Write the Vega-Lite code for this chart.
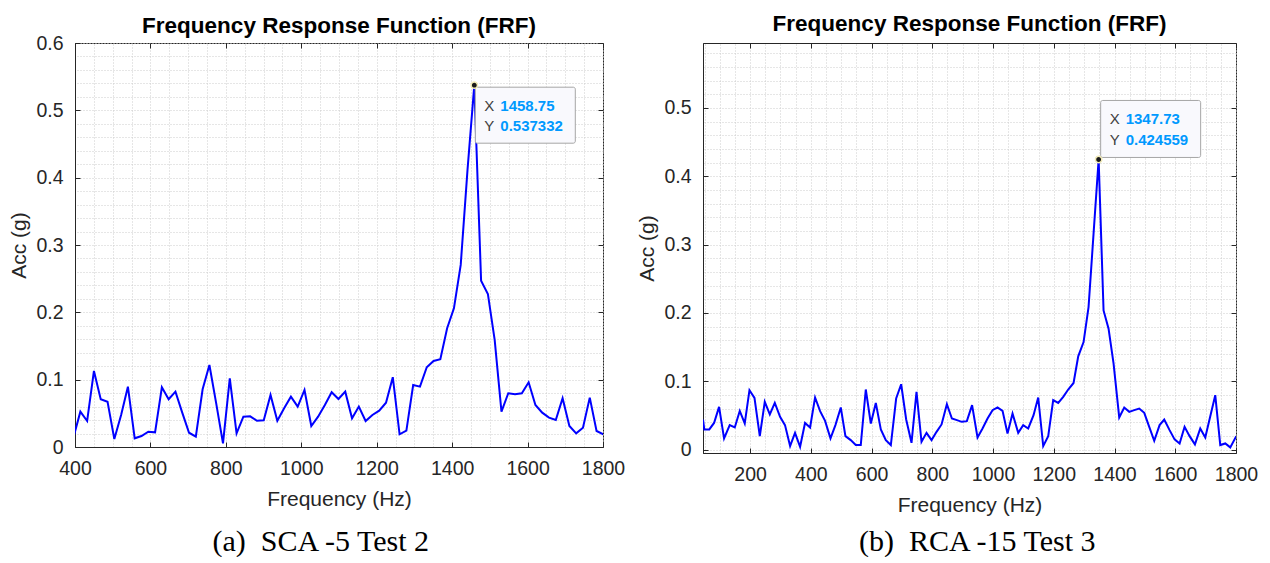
{
  "$schema": "https://vega.github.io/schema/vega-lite/v6.json",
  "background": "white",
  "padding": {"left": 8, "top": 12, "right": 0, "bottom": 0},
  "spacing": 10,
  "datasets": {
    "frfA": [
      {"f": 396.20, "acc": 0.0147}, {"f": 414.21, "acc": 0.0525}, {"f": 432.22, "acc": 0.0386}, {"f": 450.23, "acc": 0.113},
      {"f": 468.24, "acc": 0.0709}, {"f": 486.25, "acc": 0.0673}, {"f": 504.26, "acc": 0.0119}, {"f": 522.27, "acc": 0.0475},
      {"f": 540.28, "acc": 0.0896}, {"f": 558.29, "acc": 0.0129}, {"f": 576.30, "acc": 0.0163}, {"f": 594.31, "acc": 0.0227},
      {"f": 612.31, "acc": 0.0218}, {"f": 630.32, "acc": 0.0887}, {"f": 648.33, "acc": 0.0709}, {"f": 666.34, "acc": 0.0822},
      {"f": 684.35, "acc": 0.051}, {"f": 702.36, "acc": 0.0212}, {"f": 720.37, "acc": 0.0153}, {"f": 738.38, "acc": 0.0857},
      {"f": 756.39, "acc": 0.1218}, {"f": 774.40, "acc": 0.0649}, {"f": 792.41, "acc": 0.0055}, {"f": 810.42, "acc": 0.102},
      {"f": 828.43, "acc": 0.0203}, {"f": 846.44, "acc": 0.045}, {"f": 864.44, "acc": 0.0456}, {"f": 882.45, "acc": 0.039},
      {"f": 900.46, "acc": 0.0397}, {"f": 918.47, "acc": 0.0773}, {"f": 936.48, "acc": 0.039}, {"f": 954.49, "acc": 0.0575},
      {"f": 972.50, "acc": 0.0748}, {"f": 990.51, "acc": 0.06}, {"f": 1008.52, "acc": 0.0847}, {"f": 1026.53, "acc": 0.0312},
      {"f": 1044.54, "acc": 0.045}, {"f": 1062.55, "acc": 0.0624}, {"f": 1080.56, "acc": 0.0813}, {"f": 1098.56, "acc": 0.0713},
      {"f": 1116.57, "acc": 0.0822}, {"f": 1134.58, "acc": 0.0426}, {"f": 1152.59, "acc": 0.06}, {"f": 1170.60, "acc": 0.0386},
      {"f": 1188.61, "acc": 0.0475}, {"f": 1206.62, "acc": 0.054}, {"f": 1224.63, "acc": 0.0658}, {"f": 1242.64, "acc": 0.1036},
      {"f": 1260.65, "acc": 0.0189}, {"f": 1278.66, "acc": 0.0242}, {"f": 1296.67, "acc": 0.0921}, {"f": 1314.68, "acc": 0.0896},
      {"f": 1332.69, "acc": 0.1184}, {"f": 1350.69, "acc": 0.1278}, {"f": 1368.70, "acc": 0.1303}, {"f": 1386.71, "acc": 0.1764},
      {"f": 1404.72, "acc": 0.206}, {"f": 1422.73, "acc": 0.2704}, {"f": 1440.74, "acc": 0.4116}, {"f": 1458.75, "acc": 0.537332},
      {"f": 1476.76, "acc": 0.2471}, {"f": 1494.77, "acc": 0.2273}, {"f": 1512.78, "acc": 0.159}, {"f": 1530.79, "acc": 0.0525},
      {"f": 1548.80, "acc": 0.0798}, {"f": 1566.81, "acc": 0.0783}, {"f": 1584.81, "acc": 0.0798}, {"f": 1602.82, "acc": 0.0961},
      {"f": 1620.83, "acc": 0.0624}, {"f": 1638.84, "acc": 0.051}, {"f": 1656.85, "acc": 0.0436}, {"f": 1674.86, "acc": 0.0401},
      {"f": 1692.87, "acc": 0.0723}, {"f": 1710.88, "acc": 0.0312}, {"f": 1728.89, "acc": 0.0203}, {"f": 1746.90, "acc": 0.0287},
      {"f": 1764.91, "acc": 0.0733}, {"f": 1782.92, "acc": 0.0238}, {"f": 1800.93, "acc": 0.0189}
    ],
    "frfB": [
      {"f": 45, "acc": 0.044}, {"f": 49.3, "acc": 0.0295}, {"f": 65.7, "acc": 0.0295}, {"f": 81.4, "acc": 0.039},
      {"f": 97.9, "acc": 0.0625}, {"f": 114.4, "acc": 0.0164}, {"f": 133, "acc": 0.0358}, {"f": 149.6, "acc": 0.0324},
      {"f": 166, "acc": 0.0566}, {"f": 182.5, "acc": 0.0382}, {"f": 198, "acc": 0.0869}, {"f": 214.5, "acc": 0.0756},
      {"f": 232, "acc": 0.0197}, {"f": 248.4, "acc": 0.0698}, {"f": 265, "acc": 0.0514}, {"f": 281.4, "acc": 0.0683},
      {"f": 298.8, "acc": 0.0479}, {"f": 315, "acc": 0.0358}, {"f": 331.8, "acc": 0.0051}, {"f": 348, "acc": 0.0245},
      {"f": 364.7, "acc": 0.0041}, {"f": 381, "acc": 0.039}, {"f": 397.6, "acc": 0.0324}, {"f": 414, "acc": 0.0762},
      {"f": 430.6, "acc": 0.0562}, {"f": 447, "acc": 0.042}, {"f": 464.8, "acc": 0.0164}, {"f": 481, "acc": 0.0358},
      {"f": 498.7, "acc": 0.0616}, {"f": 514, "acc": 0.0197}, {"f": 531.4, "acc": 0.0139}, {"f": 548, "acc": 0.0066},
      {"f": 564.5, "acc": 0.0066}, {"f": 581, "acc": 0.0879}, {"f": 597.6, "acc": 0.0382}, {"f": 614, "acc": 0.0683},
      {"f": 630.5, "acc": 0.0295}, {"f": 647, "acc": 0.0139}, {"f": 663.5, "acc": 0.0066}, {"f": 681, "acc": 0.0747},
      {"f": 697.5, "acc": 0.0956}, {"f": 714, "acc": 0.0441}, {"f": 731.6, "acc": 0.0099}, {"f": 748, "acc": 0.0844},
      {"f": 764.5, "acc": 0.0114}, {"f": 781, "acc": 0.0245}, {"f": 797.5, "acc": 0.0139}, {"f": 814, "acc": 0.026},
      {"f": 830.5, "acc": 0.0368}, {"f": 848, "acc": 0.0664}, {"f": 864.5, "acc": 0.0455}, {"f": 881, "acc": 0.0431},
      {"f": 897, "acc": 0.0406}, {"f": 913.8, "acc": 0.0416}, {"f": 931, "acc": 0.065}, {"f": 948.9, "acc": 0.0178},
      {"f": 965.4, "acc": 0.0309}, {"f": 981.9, "acc": 0.0455}, {"f": 998.3, "acc": 0.0577}, {"f": 1014.8, "acc": 0.0616},
      {"f": 1031.3, "acc": 0.0567}, {"f": 1047.7, "acc": 0.0236}, {"f": 1064.2, "acc": 0.0528}, {"f": 1082.9, "acc": 0.0245},
      {"f": 1099.3, "acc": 0.0358}, {"f": 1115.8, "acc": 0.0309}, {"f": 1133.4, "acc": 0.0504}, {"f": 1148.7, "acc": 0.0762},
      {"f": 1165.2, "acc": 0.0051}, {"f": 1181.7, "acc": 0.0197}, {"f": 1198.1, "acc": 0.0723}, {"f": 1214.6, "acc": 0.0683},
      {"f": 1231.1, "acc": 0.0771}, {"f": 1247.5, "acc": 0.0879}, {"f": 1265.1, "acc": 0.0975}, {"f": 1280.5, "acc": 0.1365},
      {"f": 1298.1, "acc": 0.1574}, {"f": 1314.5, "acc": 0.2085}, {"f": 1331, "acc": 0.316}, {"f": 1347.73, "acc": 0.424559},
      {"f": 1363.9, "acc": 0.2036}, {"f": 1380.4, "acc": 0.1769}, {"f": 1396.9, "acc": 0.1258}, {"f": 1415.5, "acc": 0.047},
      {"f": 1432, "acc": 0.0616}, {"f": 1448.5, "acc": 0.0552}, {"f": 1464.9, "acc": 0.0577}, {"f": 1481.4, "acc": 0.0601},
      {"f": 1497.9, "acc": 0.0538}, {"f": 1514.3, "acc": 0.0333}, {"f": 1530.8, "acc": 0.0129}, {"f": 1548.4, "acc": 0.0358},
      {"f": 1563.7, "acc": 0.044}, {"f": 1581.3, "acc": 0.0285}, {"f": 1597.8, "acc": 0.0149}, {"f": 1614.3, "acc": 0.009},
      {"f": 1630.7, "acc": 0.0333}, {"f": 1647.2, "acc": 0.0197}, {"f": 1664.8, "acc": 0.0076}, {"f": 1682.3, "acc": 0.0309},
      {"f": 1698.8, "acc": 0.0178}, {"f": 1715.3, "acc": 0.0489}, {"f": 1731.7, "acc": 0.0796}, {"f": 1748.2, "acc": 0.0066},
      {"f": 1764.7, "acc": 0.009}, {"f": 1781.1, "acc": 0.0032}, {"f": 1800.9, "acc": 0.0197}
    ],
    "tipA": [{"f": 1458.75, "acc": 0.537332}],
    "tipB": [{"f": 1347.73, "acc": 0.424559}]
  },
  "hconcat": [
    {
      "title": {"text": "(a)\u00a0 SCA -5 Test 2", "orient": "bottom", "anchor": "middle", "font": "Liberation Serif", "fontSize": 30, "fontWeight": "normal", "color": "black", "offset": 17, "dx": 4},
      "vconcat": [
        {
          "width": 528,
          "height": 404,
          "title": {"text": "Frequency Response Function (FRF)", "font": "Liberation Sans", "fontSize": 22.5, "fontWeight": "bold", "color": "black", "offset": -4},
          "resolve": {"axis": {"x": "independent", "y": "independent"}},
          "layer": [
            {
              "data": {"name": "frfA"},
              "mark": {"type": "line", "strokeOpacity": 0, "clip": true},
              "encoding": {
                "x": {"field": "f", "type": "quantitative", "scale": {"domain": [400, 1800], "nice": false, "zero": false, "padding": 0},
                  "axis": {"orient": "top", "values": [400,450,500,550,600,650,700,750,800,850,900,950,1000,1050,1100,1150,1200,1250,1300,1350,1400,1450,1500,1550,1600,1650,1700,1750,1800],
                    "labels": false, "domain": false, "title": null, "grid": true, "gridDash": [1, 2], "gridColor": "#cccccc", "gridWidth": 1,
                    "tickSize": -5, "tickColor": "#262626", "tickOpacity": {"condition": {"test": "datum.value % 200 === 0", "value": 1}, "value": 0}}},
                "y": {"field": "acc", "type": "quantitative", "scale": {"domain": [0, 0.6], "nice": false, "padding": 0},
                  "axis": {"orient": "right", "values": [0,0.02,0.04,0.06,0.08,0.1,0.12,0.14,0.16,0.18,0.2,0.22,0.24,0.26,0.28,0.3,0.32,0.34,0.36,0.38,0.4,0.42,0.44,0.46,0.48,0.5,0.52,0.54,0.56,0.58,0.6],
                    "labels": false, "domain": false, "title": null, "grid": true, "gridDash": [1, 2], "gridColor": "#cccccc", "gridWidth": 1,
                    "tickSize": -5, "tickColor": "#262626", "tickOpacity": {"condition": {"test": "abs(datum.value*10 - round(datum.value*10)) < 0.001", "value": 1}, "value": 0}}}
              }
            },
            {
              "data": {"name": "frfA"},
              "mark": {"type": "line", "color": "#0000ff", "strokeWidth": 2, "clip": true},
              "encoding": {
                "x": {"field": "f", "type": "quantitative", "scale": {"domain": [400, 1800], "nice": false, "zero": false, "padding": 0},
                  "axis": {"orient": "bottom", "values": [400, 600, 800, 1000, 1200, 1400, 1600, 1800], "format": "d", "title": "Frequency (Hz)", "grid": false, "tickSize": -5, "labelPadding": 17, "titlePadding": 11}},
                "y": {"field": "acc", "type": "quantitative", "scale": {"domain": [0, 0.6], "nice": false, "padding": 0},
                  "axis": {"orient": "left", "values": [0, 0.1, 0.2, 0.3, 0.4, 0.5, 0.6], "format": "~g", "title": "Acc (g)", "grid": false, "tickSize": -5, "labelPadding": 17, "titlePadding": 6}}
              }
            },
            {
              "data": {"name": "tipA"},
              "mark": {"type": "rect", "xOffset": 1, "x2Offset": 101, "yOffset": 2, "y2Offset": 58, "fill": "#f9f9fd", "stroke": "#a6a6a6", "strokeWidth": 1, "cornerRadius": 2},
              "encoding": {
                "x": {"field": "f", "type": "quantitative", "scale": {"domain": [400, 1800], "nice": false, "zero": false, "padding": 0}, "axis": null},
                "x2": {"field": "f"},
                "y": {"field": "acc", "type": "quantitative", "scale": {"domain": [0, 0.6], "nice": false, "padding": 0}, "axis": null},
                "y2": {"field": "acc"}
              }
            },
            {
              "data": {"name": "tipA"},
              "mark": {"type": "circle", "fill": "#1a1a1a", "stroke": "#f3ecb8", "strokeWidth": 1.5, "size": 40, "opacity": 1},
              "encoding": {
                "x": {"field": "f", "type": "quantitative", "scale": {"domain": [400, 1800], "nice": false, "zero": false, "padding": 0}, "axis": null},
                "y": {"field": "acc", "type": "quantitative", "scale": {"domain": [0, 0.6], "nice": false, "padding": 0}, "axis": null}
              }
            },
            {
              "data": {"name": "tipA"},
              "mark": {"type": "text", "text": "X", "align": "left", "baseline": "middle", "dx": 10, "dy": 21, "font": "Liberation Sans", "fontSize": 15, "fill": "#404040"},
              "encoding": {
                "x": {"field": "f", "type": "quantitative", "scale": {"domain": [400, 1800], "nice": false, "zero": false, "padding": 0}, "axis": null},
                "y": {"field": "acc", "type": "quantitative", "scale": {"domain": [0, 0.6], "nice": false, "padding": 0}, "axis": null}
              }
            },
            {
              "data": {"name": "tipA"},
              "mark": {"type": "text", "text": "Y", "align": "left", "baseline": "middle", "dx": 10, "dy": 41, "font": "Liberation Sans", "fontSize": 15, "fill": "#404040"},
              "encoding": {
                "x": {"field": "f", "type": "quantitative", "scale": {"domain": [400, 1800], "nice": false, "zero": false, "padding": 0}, "axis": null},
                "y": {"field": "acc", "type": "quantitative", "scale": {"domain": [0, 0.6], "nice": false, "padding": 0}, "axis": null}
              }
            },
            {
              "data": {"name": "tipA"},
              "mark": {"type": "text", "align": "left", "baseline": "middle", "dx": 26, "dy": 21, "font": "Liberation Sans", "fontSize": 15, "fontWeight": "bold", "fill": "#0099ff"},
              "encoding": {
                "x": {"field": "f", "type": "quantitative", "scale": {"domain": [400, 1800], "nice": false, "zero": false, "padding": 0}, "axis": null},
                "y": {"field": "acc", "type": "quantitative", "scale": {"domain": [0, 0.6], "nice": false, "padding": 0}, "axis": null},
                "text": {"field": "f", "type": "quantitative", "format": ".2f"}
              }
            },
            {
              "data": {"name": "tipA"},
              "mark": {"type": "text", "align": "left", "baseline": "middle", "dx": 26, "dy": 41, "font": "Liberation Sans", "fontSize": 15, "fontWeight": "bold", "fill": "#0099ff"},
              "encoding": {
                "x": {"field": "f", "type": "quantitative", "scale": {"domain": [400, 1800], "nice": false, "zero": false, "padding": 0}, "axis": null},
                "y": {"field": "acc", "type": "quantitative", "scale": {"domain": [0, 0.6], "nice": false, "padding": 0}, "axis": null},
                "text": {"field": "acc", "type": "quantitative", "format": ".6f"}
              }
            }
          ]
        }
      ]
    },
    {
      "title": {"text": "(b)\u00a0 RCA -15 Test 3", "orient": "bottom", "anchor": "middle", "font": "Liberation Serif", "fontSize": 30, "fontWeight": "normal", "color": "black", "offset": 11, "dx": 30},
      "vconcat": [
        {
          "width": 533,
          "height": 410,
          "title": {"text": "Frequency Response Function (FRF)", "font": "Liberation Sans", "fontSize": 22.5, "fontWeight": "bold", "color": "black", "offset": 7},
          "resolve": {"axis": {"x": "independent", "y": "independent"}},
          "layer": [
            {
              "data": {"name": "frfB"},
              "mark": {"type": "line", "strokeOpacity": 0, "clip": true},
              "encoding": {
                "x": {"field": "f", "type": "quantitative", "scale": {"domain": [45, 1800], "nice": false, "zero": false, "padding": 0},
                  "axis": {"orient": "top", "values": [50,100,150,200,250,300,350,400,450,500,550,600,650,700,750,800,850,900,950,1000,1050,1100,1150,1200,1250,1300,1350,1400,1450,1500,1550,1600,1650,1700,1750,1800],
                    "labels": false, "domain": false, "title": null, "grid": true, "gridDash": [1, 2], "gridColor": "#cccccc", "gridWidth": 1,
                    "tickSize": -5, "tickColor": "#262626", "tickOpacity": {"condition": {"test": "datum.value % 200 === 0", "value": 1}, "value": 0}}},
                "y": {"field": "acc", "type": "quantitative", "scale": {"domain": [-0.005, 0.595], "nice": false, "zero": false, "padding": 0},
                  "axis": {"orient": "right", "values": [0,0.02,0.04,0.06,0.08,0.1,0.12,0.14,0.16,0.18,0.2,0.22,0.24,0.26,0.28,0.3,0.32,0.34,0.36,0.38,0.4,0.42,0.44,0.46,0.48,0.5,0.52,0.54,0.56,0.58],
                    "labels": false, "domain": false, "title": null, "grid": true, "gridDash": [1, 2], "gridColor": "#cccccc", "gridWidth": 1,
                    "tickSize": -5, "tickColor": "#262626", "tickOpacity": {"condition": {"test": "abs(datum.value*10 - round(datum.value*10)) < 0.001", "value": 1}, "value": 0}}}
              }
            },
            {
              "data": {"name": "frfB"},
              "mark": {"type": "line", "color": "#0000ff", "strokeWidth": 2, "clip": true},
              "encoding": {
                "x": {"field": "f", "type": "quantitative", "scale": {"domain": [45, 1800], "nice": false, "zero": false, "padding": 0},
                  "axis": {"orient": "bottom", "values": [200, 400, 600, 800, 1000, 1200, 1400, 1600, 1800], "format": "d", "title": "Frequency (Hz)", "grid": false, "tickSize": -5, "labelPadding": 17, "titlePadding": 11}},
                "y": {"field": "acc", "type": "quantitative", "scale": {"domain": [-0.005, 0.595], "nice": false, "zero": false, "padding": 0},
                  "axis": {"orient": "left", "values": [0, 0.1, 0.2, 0.3, 0.4, 0.5], "format": "~g", "title": "Acc (g)", "grid": false, "tickSize": -5, "labelPadding": 17, "titlePadding": 6}}
              }
            },
            {
              "data": {"name": "tipB"},
              "mark": {"type": "rect", "xOffset": 2, "x2Offset": 102, "yOffset": -59, "y2Offset": -2, "fill": "#f9f9fd", "stroke": "#a6a6a6", "strokeWidth": 1, "cornerRadius": 2},
              "encoding": {
                "x": {"field": "f", "type": "quantitative", "scale": {"domain": [45, 1800], "nice": false, "zero": false, "padding": 0}, "axis": null},
                "x2": {"field": "f"},
                "y": {"field": "acc", "type": "quantitative", "scale": {"domain": [-0.005, 0.595], "nice": false, "zero": false, "padding": 0}, "axis": null},
                "y2": {"field": "acc"}
              }
            },
            {
              "data": {"name": "tipB"},
              "mark": {"type": "circle", "fill": "#1a1a1a", "stroke": "#f3ecb8", "strokeWidth": 1.5, "size": 40, "opacity": 1},
              "encoding": {
                "x": {"field": "f", "type": "quantitative", "scale": {"domain": [45, 1800], "nice": false, "zero": false, "padding": 0}, "axis": null},
                "y": {"field": "acc", "type": "quantitative", "scale": {"domain": [-0.005, 0.595], "nice": false, "zero": false, "padding": 0}, "axis": null}
              }
            },
            {
              "data": {"name": "tipB"},
              "mark": {"type": "text", "text": "X", "align": "left", "baseline": "middle", "dx": 11, "dy": -40, "font": "Liberation Sans", "fontSize": 15, "fill": "#404040"},
              "encoding": {
                "x": {"field": "f", "type": "quantitative", "scale": {"domain": [45, 1800], "nice": false, "zero": false, "padding": 0}, "axis": null},
                "y": {"field": "acc", "type": "quantitative", "scale": {"domain": [-0.005, 0.595], "nice": false, "zero": false, "padding": 0}, "axis": null}
              }
            },
            {
              "data": {"name": "tipB"},
              "mark": {"type": "text", "text": "Y", "align": "left", "baseline": "middle", "dx": 11, "dy": -19, "font": "Liberation Sans", "fontSize": 15, "fill": "#404040"},
              "encoding": {
                "x": {"field": "f", "type": "quantitative", "scale": {"domain": [45, 1800], "nice": false, "zero": false, "padding": 0}, "axis": null},
                "y": {"field": "acc", "type": "quantitative", "scale": {"domain": [-0.005, 0.595], "nice": false, "zero": false, "padding": 0}, "axis": null}
              }
            },
            {
              "data": {"name": "tipB"},
              "mark": {"type": "text", "align": "left", "baseline": "middle", "dx": 27, "dy": -40, "font": "Liberation Sans", "fontSize": 15, "fontWeight": "bold", "fill": "#0099ff"},
              "encoding": {
                "x": {"field": "f", "type": "quantitative", "scale": {"domain": [45, 1800], "nice": false, "zero": false, "padding": 0}, "axis": null},
                "y": {"field": "acc", "type": "quantitative", "scale": {"domain": [-0.005, 0.595], "nice": false, "zero": false, "padding": 0}, "axis": null},
                "text": {"field": "f", "type": "quantitative", "format": ".2f"}
              }
            },
            {
              "data": {"name": "tipB"},
              "mark": {"type": "text", "align": "left", "baseline": "middle", "dx": 27, "dy": -19, "font": "Liberation Sans", "fontSize": 15, "fontWeight": "bold", "fill": "#0099ff"},
              "encoding": {
                "x": {"field": "f", "type": "quantitative", "scale": {"domain": [45, 1800], "nice": false, "zero": false, "padding": 0}, "axis": null},
                "y": {"field": "acc", "type": "quantitative", "scale": {"domain": [-0.005, 0.595], "nice": false, "zero": false, "padding": 0}, "axis": null},
                "text": {"field": "acc", "type": "quantitative", "format": ".6f"}
              }
            }
          ]
        }
      ]
    }
  ],
  "config": {
    "font": "Liberation Sans",
    "view": {"stroke": "#262626", "strokeWidth": 1},
    "axis": {
      "labelFont": "Liberation Sans", "labelFontSize": 19.5, "labelColor": "#262626", "labelFlush": false,
      "titleFont": "Liberation Sans", "titleFontSize": 21, "titleFontWeight": "normal", "titleColor": "#262626",
      "domainColor": "#262626", "tickColor": "#262626", "grid": false
    }
  }
}
